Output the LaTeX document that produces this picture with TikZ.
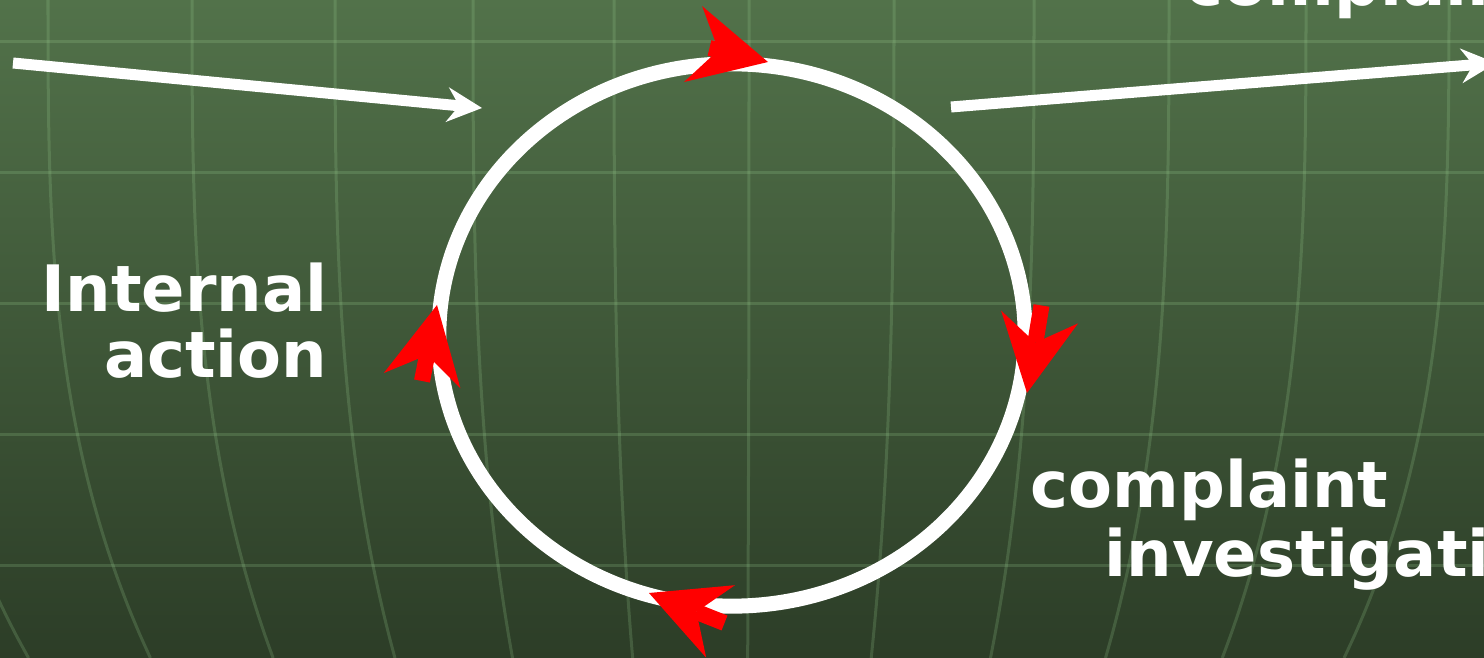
\documentclass[tikz,border=0pt]{standalone}
\usepackage{fontspec}
\setmainfont{DejaVu Sans}
\usetikzlibrary{arrows.meta}
\definecolor{bgtop}{RGB}{82,114,74}
\definecolor{bgbottom}{RGB}{44,61,39}
\definecolor{gridgreen}{RGB}{160,215,150}

\begin{document}
\begin{tikzpicture}[x=0.01cm, y=-0.01cm,
  gridline/.style={draw=gridgreen, opacity=0.2, line width=0.03cm},
  cycleline/.style={draw=white, line width=0.15cm},
  flowarrow/.style={draw=red, line width=0.16cm,
    -{Stealth[length=7.7mm, width=7.8mm, inset=2.6mm, line width=0pt]}},
  mainarrow/.style={draw=white, line width=0.11cm,
    -{Stealth[length=3.5mm, width=3.5mm, inset=1.2mm, line width=0pt]}},
  labeltext/.style={text=white, font=\fontsize{18.2}{19}\selectfont\bfseries, inner sep=0pt},
]
  \useasboundingbox (0,0) rectangle (1484,658);
  \clip (0,0) rectangle (1484,658);
  % background and grid
  \shade[top color=bgtop, bottom color=bgbottom] (0,0) rectangle (1484,658);
  \foreach \gy in {42,173,304,435,566}
    \draw[gridline] (0,\gy) -- (1484,\gy);
  \foreach \gx in {-95,48,192,335,473,614,749,894,1034,1169,1306,1449}
    \draw[gridline] plot[domain=0:658, samples=30, variable=\t, smooth]
      ({\gx-0.148*(\gx-740)*(\t/658)^3}, \t);

  % cycle
  \coordinate (hub) at (732,335);
  \draw[cycleline] (hub) ellipse [x radius=2.93cm, y radius=2.71cm];

  \coordinate (topback) at (709.5,48);   \coordinate (toptip) at (768,62);
  \coordinate (rightback) at (1041.5,305.5); \coordinate (righttip) at (1027,393);
  \coordinate (bottomback) at (724.5,623); \coordinate (bottomtip) at (649,593);
  \coordinate (leftback) at (422,381);   \coordinate (lefttip) at (437,305);
  \draw[flowarrow] (topback) -- (toptip);
  \draw[flowarrow] (rightback) -- (righttip);
  \draw[flowarrow] (bottomback) -- (bottomtip);
  \draw[flowarrow] (leftback) -- (lefttip);

  % in and out
  \coordinate (instart) at (13,63);  \coordinate (inend) at (482,108);
  \coordinate (outstart) at (951,107); \coordinate (outend) at (1496,63);
  \draw[mainarrow] (instart) -- (inend);
  \draw[mainarrow] (outstart) -- (outend);

  % labels
  \node[labeltext, anchor=base east] (internal) at (328,312) {Internal};
  \node[labeltext, anchor=base east] (action) at (328,378) {action};
  \node[labeltext, anchor=base west] (complaint) at (1030,508) {complaint};
  \node[labeltext, anchor=base west] (investigation) at (1104,577) {investigation};
  \node[labeltext, anchor=base west] (topcomplaint) at (1185,6) {complaint};
\end{tikzpicture}
\end{document}
